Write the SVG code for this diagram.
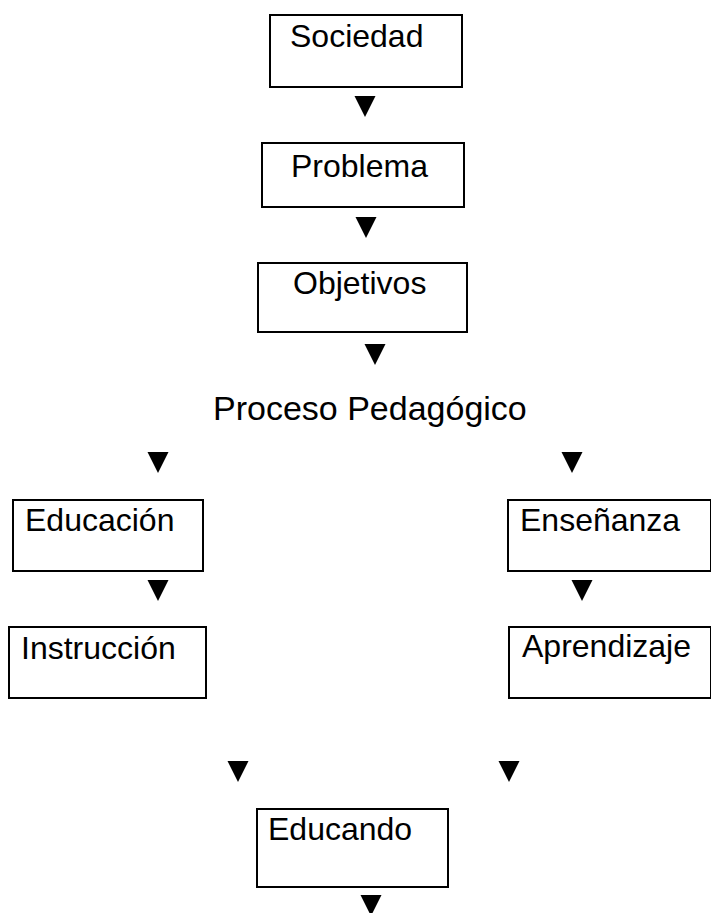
<svg xmlns="http://www.w3.org/2000/svg" xmlns:xlink="http://www.w3.org/1999/xlink" width="711" height="913" viewBox="0 0 711 913">
<style>
.box{fill:#fff;stroke:#000;stroke-width:2}
.lbl{font-family:"Liberation Sans",Arial,sans-serif;font-size:32px;fill:#000}
</style>
<defs>
<polygon id="tri" points="-10.5,0 10.5,0 0,21" fill="#000"/>
</defs>
<rect width="711" height="913" fill="#fff"/>
<g id="sociedad"><rect class="box" x="270" y="15" width="192" height="72"/><text class="lbl" x="290" y="47">Sociedad</text></g>
<g id="problema"><rect class="box" x="262" y="143" width="202" height="64"/><text class="lbl" x="291" y="177">Problema</text></g>
<g id="objetivos"><rect class="box" x="258" y="263" width="209" height="69"/><text class="lbl" x="293" y="294">Objetivos</text></g>
<g id="proceso"><text class="lbl" x="213" y="420" style="font-size:34px">Proceso Pedagógico</text></g>
<g id="educacion"><rect class="box" x="13" y="500" width="190" height="71"/><text class="lbl" x="25" y="531">Educación</text></g>
<g id="ensenanza"><rect class="box" x="508" y="500" width="203" height="71"/><text class="lbl" x="520" y="531">Enseñanza</text></g>
<g id="instruccion"><rect class="box" x="9" y="627" width="197" height="71"/><text class="lbl" x="21" y="659">Instrucción</text></g>
<g id="aprendizaje"><rect class="box" x="509" y="627" width="202" height="71"/><text class="lbl" x="522" y="657">Aprendizaje</text></g>
<g id="educando"><rect class="box" x="257" y="809" width="191" height="78"/><text class="lbl" x="268" y="840">Educando</text></g>
<g id="connectors">
<use xlink:href="#tri" x="365" y="96"/>
<use xlink:href="#tri" x="366" y="217"/>
<use xlink:href="#tri" x="375" y="344"/>
<use xlink:href="#tri" x="158" y="452"/>
<use xlink:href="#tri" x="572" y="452"/>
<use xlink:href="#tri" x="158" y="580"/>
<use xlink:href="#tri" x="582" y="580"/>
<use xlink:href="#tri" x="238" y="761"/>
<use xlink:href="#tri" x="509" y="761"/>
<use xlink:href="#tri" x="371" y="895"/>
</g>
</svg>
